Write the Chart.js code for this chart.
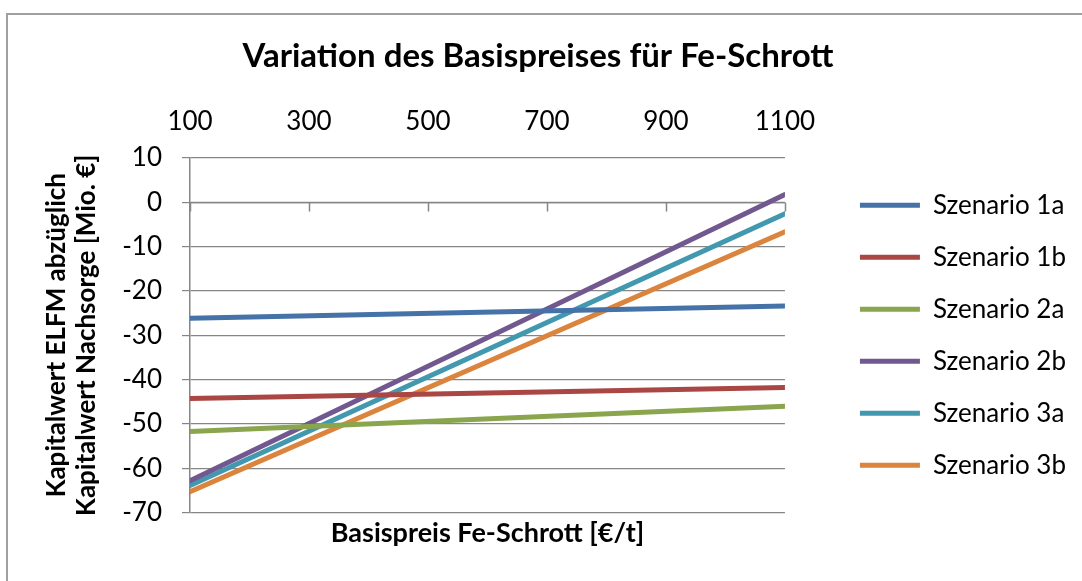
<!DOCTYPE html>
<html lang="de">
<head>
<meta charset="utf-8">
<title>Variation des Basispreises für Fe-Schrott</title>
<script src="https://cdn.jsdelivr.net/npm/chart.js@4.4.1/dist/chart.umd.min.js"></script>
<style>
  html, body { margin: 0; padding: 0; background: #ffffff; }
  #wrap { position: relative; width: 1082px; height: 581px; }
</style>
</head>
<body>
<div id="wrap"><canvas id="chart" width="1082" height="581"></canvas></div>
<script>
// Basispreis Fe-Schrott [€/t] – start and end of the varied range
const prices = [100, 1100];

// Kapitalwert ELFM abzüglich Kapitalwert Nachsorge [Mio. €]
const szenario1a = [-26.2, -23.4];
const szenario1b = [-44.3, -41.8];
const szenario2a = [-51.7, -46.0];
const szenario2b = [-62.8, 1.7];
const szenario3a = [-63.9, -2.6];
const szenario3b = [-65.3, -6.7];

const seriesNames = ['Szenario 1a', 'Szenario 1b', 'Szenario 2a', 'Szenario 2b', 'Szenario 3a', 'Szenario 3b'];
const seriesValues = [szenario1a, szenario1b, szenario2a, szenario2b, szenario3a, szenario3b];
const seriesColors = ['#4572A7', '#AA4643', '#89A54E', '#71588F', '#4198AF', '#DB843D'];

const xTicks = [100, 300, 500, 700, 900, 1100];
const yTicks = [10, 0, -10, -20, -30, -40, -50, -60, -70];

const FONT = 'Lato, "Open Sans", "DejaVu Sans", sans-serif';
const GRID = '#868686';

// outer frame of the chart object
const framePlugin = {
  id: 'frame',
  beforeDraw(chart) {
    const ctx = chart.ctx;
    ctx.save();
    ctx.fillStyle = '#ffffff';
    ctx.fillRect(0, 0, chart.width, chart.height);
    ctx.strokeStyle = '#a0a0a0';
    ctx.lineWidth = 2;
    ctx.strokeRect(7, 14, chart.width + 20, chart.height + 20);
    ctx.restore();
  }
};

// horizontal axis line crossing at y = 0 with downward tick marks
const zeroAxisPlugin = {
  id: 'zeroAxis',
  beforeDatasetsDraw(chart) {
    const x = chart.scales.x, y = chart.scales.y;
    const y0 = Math.round(y.getPixelForValue(0)) + 0.5;
    const ctx = chart.ctx;
    ctx.save();
    ctx.strokeStyle = GRID;
    ctx.lineWidth = 1.5;
    ctx.beginPath();
    ctx.moveTo(x.left, y0);
    ctx.lineTo(x.right, y0);
    xTicks.forEach(v => {
      const px = Math.round(x.getPixelForValue(v)) + 0.5;
      ctx.moveTo(px, y0);
      ctx.lineTo(px, y0 + 9);
    });
    ctx.stroke();
    ctx.restore();
  }
};

const datasets = seriesNames.map((name, i) => ({
  label: name,
  data: prices.map((p, k) => ({ x: p, y: seriesValues[i][k] })),
  borderColor: seriesColors[i],
  backgroundColor: seriesColors[i],
  borderWidth: 5,
  borderCapStyle: 'round',
  pointRadius: 0,
  pointHoverRadius: 0,
  pointStyle: 'line',
  tension: 0,
  fill: false,
  xAxisID: 'x',
  yAxisID: 'y'
}));

new Chart(document.getElementById('chart'), {
  type: 'line',
  data: { datasets },
  plugins: [framePlugin, zeroAxisPlugin],
  options: {
    responsive: false,
    animation: false,
    events: [],
    layout: { padding: { top: 0, left: 0, right: 6, bottom: 32 } },
    plugins: {
      title: {
        display: true,
        text: 'Variation des Basispreises für Fe-Schrott',
        color: '#000000',
        font: { family: FONT, size: 33, weight: 'bold', lineHeight: 1.2 },
        padding: { top: 37, bottom: 8 }
      },
      legend: {
        display: true,
        position: 'right',
        align: 'center',
        fullSize: false,
        maxWidth: 400,
        labels: {
          usePointStyle: true,
          pointStyleWidth: 60,
          boxHeight: 6,
          padding: 26,
          color: '#000000',
          font: { family: FONT, size: 26 }
        }
      },
      tooltip: { enabled: false }
    },
    scales: {
      x: {
        type: 'linear',
        position: 'top',
        min: 100,
        max: 1100,
        afterBuildTicks(scale) { scale.ticks = xTicks.map(v => ({ value: v })); },
        grid: { display: false, drawTicks: false },
        border: { display: false },
        ticks: {
          color: '#000000',
          padding: 21,
          maxRotation: 0,
          callback: v => String(v),
          font: { family: FONT, size: 26, lineHeight: 1.2 }
        }
      },
      xTitle: {
        type: 'linear',
        position: 'bottom',
        min: 100,
        max: 1100,
        grid: { display: false, drawTicks: false },
        border: { display: false },
        ticks: { display: false },
        title: {
          display: true,
          text: 'Basispreis Fe-Schrott [€/t]',
          color: '#000000',
          font: { family: FONT, size: 27, weight: 'bold', lineHeight: 1.2 },
          padding: { top: 4, bottom: 0 }
        }
      },
      y: {
        type: 'linear',
        position: 'left',
        min: -70,
        max: 10,
        afterBuildTicks(scale) { scale.ticks = yTicks.map(v => ({ value: v })); },
        afterFit(scale) { scale.width = 190; },
        grid: { color: GRID, lineWidth: 1.2, drawTicks: true, tickLength: 8 },
        border: { display: true, color: GRID, width: 1.5 },
        ticks: {
          color: '#000000',
          padding: 20,
          callback: v => String(v),
          font: { family: FONT, size: 26, lineHeight: 1.2 }
        },
        title: {
          display: true,
          text: ['Kapitalwert ELFM abzüglich', 'Kapitalwert Nachsorge [Mio. €]'],
          color: '#000000',
          font: { family: FONT, size: 26, weight: 'bold', lineHeight: 1.15 },
          padding: { top: 42, bottom: 0 }
        }
      },
      yGap: {
        type: 'linear',
        position: 'right',
        min: 0,
        max: 1,
        afterFit(scale) { scale.width = 49; },
        grid: { display: false, drawTicks: false },
        border: { display: false },
        ticks: { display: false }
      }
    }
  }
});
</script>
</body>
</html>
